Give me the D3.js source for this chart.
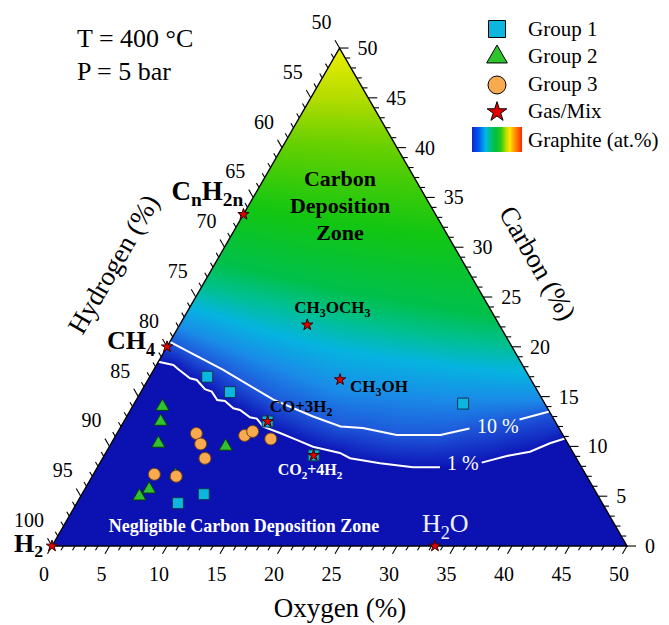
<!DOCTYPE html>
<html>
<head>
<meta charset="utf-8">
<script src="https://cdn.jsdelivr.net/npm/d3@7/dist/d3.min.js"></script>
<style>
  html, body { margin: 0; padding: 0; background: #fff; }
  svg { display: block; }
  text { font-family: "Liberation Serif", "Times New Roman", serif; }
</style>
</head>
<body>
<svg id="chart" width="669" height="625"></svg>
<script>
// Ternary H–O–C equilibrium diagram (H 50–100 %, O 0–50 %, C 0–50 %).
// Every composition is stored as [oxygen %, carbon %]; hydrogen is the remainder.

const oxygenTicks = [0, 5, 10, 15, 20, 25, 30, 35, 40, 45, 50];
const carbonTicks = [0, 5, 10, 15, 20, 25, 30, 35, 40, 45, 50];
const hydrogenTicks = [50, 55, 60, 65, 70, 75, 80, 85, 90, 95, 100];

const group1 = [[5.0, 17.0], [7.75, 15.45], [28.6, 14.3], [10.6, 5.2], [8.8, 4.3], [12.5, 12.5], [18.2, 9.1]];
const group2 = [[2.6, 14.0], [3.2, 12.5], [4.1, 10.3], [10.1, 10.0], [7.2, 7.1], [5.6, 5.7], [5.1, 5.0]];
const group3 = [[6.9, 11.3], [7.8, 10.25], [8.9, 8.8], [5.3, 7.2], [7.3, 7.0], [11.2, 11.1], [11.7, 11.5], [13.65, 10.75]];

const gasNames  = ["H_2", "H_2O", "CH_4", "C_nH_{2n}", "CH_3OCH_3", "CH_3OH", "CO+3H_2", "CO_2+4H_2"];
const gasOxygen = [0, 33.3, 0, 0, 11.1, 16.7, 12.5, 18.2];
const gasCarbon = [0, 0, 20, 33.3, 22.2, 16.7, 12.5, 9.1];

// Graphite iso-contours (at.%)
const contour1 = [[0, 18.5], [1.46, 18.18], [2.11, 17.75], [3.58, 16.84], [4.25, 16.67], [5.43, 15.74],
  [6.14, 15.5], [7.04, 14.66], [7.76, 14.56], [8.85, 13.83], [9.52, 13.66], [10.75, 12.93],
  [11.41, 12.79], [12.38, 11.98], [14.15, 11.35], [15.95, 10.65], [17.71, 9.97], [20.37, 9.34],
  [21.51, 8.81], [24.37, 8.31], [27.44, 7.9], [29.79, 7.9], [33.18, 8.37], [35.02, 9.04],
  [36.83, 9.47], [38.14, 10.32], [39.2, 10.8]];
const contour10 = [[0, 20.5], [6.0, 17.7], [11.9, 14.7], [16.2, 13.0], [19.1, 12.0], [21.1, 11.85],
  [24.4, 11.15], [28.2, 11.15], [30.4, 11.8], [34.3, 12.7], [36.5, 13.5]];
const contourLevels = ["1 %", "10 %"];

// Graphite colour field: iso-shade lines above the 10 % contour
const shadeLightBlue = [[0, 22.0], [8, 19.0], [17, 15.6], [26, 14.8], [35.3, 14.7]];
const shadeCyan      = [[0, 24.0], [8, 21.5], [15, 19.7], [25, 18.2], [32.6, 17.4]];
const shadeTeal      = [[0, 26.0], [8, 24.3], [14, 22.7], [22, 21.2], [29.8, 20.2]];
const shadeGreen     = [[0, 28.5], [12, 25.7], [20, 24.2], [27, 23.0]];
const shadeDeepGreen = [[0, 34.0], [8, 32.5], [18, 31.2]];
const shadeLime      = [[0, 40.5], [9.5, 39.8]];
const shadeYellowGreen = [[0, 45.0], [5.0, 45.0]];
const shadeApex      = [[0, 50]];

const legendLabels = ["Group 1", "Group 2", "Group 3", "Gas/Mix", "Graphite (at.%)"];
const conditions = ["T = 400 °C", "P = 5 bar"];

// ---------------------------------------------------------------------------
const svg = d3.select("#chart");
const side = 575, x0 = 52, y0 = 546;
const triH = side * Math.sqrt(3) / 2;
const yTop = y0 - triH;
const xs = d3.scaleLinear().domain([0, 50]).range([x0, x0 + side]);
const ys = d3.scaleLinear().domain([0, 50]).range([y0, yTop]);
const P = (O, C) => [xs(O + C / 2), ys(C)];

const FIELD_BASE = "#0c12b1";
const shadeBands = [
  { line: contour1,         color: "#0d16b7" },
  { line: contour10,        color: "#1e58da" },
  { line: shadeLightBlue,   color: "#1a8ce8" },
  { line: shadeCyan,        color: "#06b4e0" },
  { line: shadeTeal,        color: "#00c090" },
  { line: shadeGreen,       color: "#00c04c" },
  { line: shadeDeepGreen,   color: "#12c612" },
  { line: shadeLime,        color: "#66d000" },
  { line: shadeYellowGreen, color: "#b4dc00" },
  { line: shadeApex,        color: "#eeee00" }
];

function lineAt(line, O) {
  if (O <= line[0][0]) return line[0][1];
  for (let k = 1; k < line.length; k++) {
    if (O <= line[k][0]) {
      const [o0, c0] = line[k - 1], [o1, c1] = line[k];
      return c0 + (c1 - c0) * (O - o0) / (o1 - o0);
    }
  }
  return line[line.length - 1][1];
}

// --- raster of the graphite field -----------------------------------------
const cw = Math.round(side), ch = Math.ceil(triH);
const canvas = document.createElement("canvas");
canvas.width = cw; canvas.height = ch;
const ctx = canvas.getContext("2d");
const img = ctx.createImageData(cw, ch);
const interps = shadeBands.slice(1).map((b, k) => d3.interpolateRgb(shadeBands[k].color, b.color));
const base = d3.rgb(FIELD_BASE);
for (let j = 0; j < ch; j++) {
  for (let i = 0; i < cw; i++) {
    const px = x0 + i + 0.5, py = yTop + j + 0.5;
    const C = ys.invert(py), O = xs.invert(px) - C / 2;
    const lv = shadeBands.map(b => lineAt(b.line, O));
    let col;
    if (C < lv[0]) col = base;
    else if (C >= lv[lv.length - 1]) col = d3.rgb(shadeBands[lv.length - 1].color);
    else {
      let k = 0;
      while (k < lv.length - 1 && C >= lv[k + 1]) k++;
      const t = (C - lv[k]) / (lv[k + 1] - lv[k]);
      col = d3.rgb(interps[k](t));
    }
    const idx = (j * cw + i) * 4;
    img.data[idx] = col.r; img.data[idx + 1] = col.g; img.data[idx + 2] = col.b; img.data[idx + 3] = 255;
  }
}
ctx.putImageData(img, 0, 0);

const defs = svg.append("defs");
const triPts = [P(0, 0), P(50, 0), P(0, 50)];
defs.append("clipPath").attr("id", "tri")
  .append("polygon").attr("points", triPts.map(p => p.join(",")).join(" "));

svg.append("image")
  .attr("href", canvas.toDataURL())
  .attr("x", x0).attr("y", yTop).attr("width", cw).attr("height", ch)
  .attr("preserveAspectRatio", "none")
  .attr("clip-path", "url(#tri)");

// --- contour lines -----------------------------------------------------------
const line = d3.line().x(d => P(d[0], d[1])[0]).y(d => P(d[0], d[1])[1]);
const contourGaps = [[29.79, 33.18], [30.4, 34.3]];
[contour1, contour10].forEach((c, k) => {
  const g = contourGaps[k];
  [c.filter(d => d[0] <= g[0]), c.filter(d => d[0] >= g[1])].forEach(seg => {
    svg.append("path").attr("d", line(seg)).attr("fill", "none")
      .attr("stroke", "#fff").attr("stroke-width", 2).attr("clip-path", "url(#tri)");
  });
});
const contourLabelPos = [[447, 470], [477, 433]];
contourLevels.forEach((t, k) => {
  svg.append("text").attr("x", contourLabelPos[k][0]).attr("y", contourLabelPos[k][1])
    .attr("font-size", 20).attr("fill", "#fff").text(t);
});

// --- triangle frame, ticks and labels ---------------------------------------
svg.append("polygon").attr("points", triPts.map(p => p.join(",")).join(" "))
  .attr("fill", "none").attr("stroke", "#000").attr("stroke-width", 1.4);

const tickG = svg.append("g").attr("stroke", "#000").attr("stroke-width", 1.1);
const minor = d3.range(0, 51, 1);
const s3 = Math.sqrt(3) / 2;
minor.forEach(v => {
  const len = v % 5 === 0 ? 9 : 5;
  // oxygen (bottom)
  let b = P(v, 0);
  tickG.append("line").attr("x1", b[0]).attr("y1", b[1]).attr("x2", b[0] - 0.5 * len).attr("y2", b[1] + s3 * len);
  // carbon (right)
  b = P(50 - v, v);
  tickG.append("line").attr("x1", b[0]).attr("y1", b[1]).attr("x2", b[0] + len).attr("y2", b[1]);
  // hydrogen (left)
  b = P(0, v);
  tickG.append("line").attr("x1", b[0]).attr("y1", b[1]).attr("x2", b[0] - 0.5 * len).attr("y2", b[1] - s3 * len);
});

const tickFont = 20;
oxygenTicks.forEach(v => {
  const b = P(v, 0);
  svg.append("text").attr("x", b[0] - 8).attr("y", b[1] + 28).attr("dy", "0.35em")
    .attr("text-anchor", "middle").attr("font-size", tickFont).text(v);
});
carbonTicks.forEach(v => {
  const b = P(50 - v, v);
  svg.append("text").attr("x", b[0] + 18).attr("y", b[1]).attr("dy", "0.35em")
    .attr("font-size", tickFont).text(v);
});
hydrogenTicks.forEach(v => {
  const b = P(0, 100 - v);
  svg.append("text").attr("x", b[0] - 8).attr("y", b[1] - 26).attr("dy", "0.35em")
    .attr("text-anchor", "end").attr("font-size", tickFont).text(v);
});

svg.append("text").attr("x", 340).attr("y", 617).attr("text-anchor", "middle")
  .attr("font-size", 27).text("Oxygen (%)");
svg.append("text").attr("transform", "translate(113,264) rotate(-60)").attr("text-anchor", "middle")
  .attr("dy", "0.35em").attr("font-size", 27).text("Hydrogen (%)");
svg.append("text").attr("transform", "translate(538,263) rotate(60)").attr("text-anchor", "middle")
  .attr("dy", "0.35em").attr("font-size", 27).text("Carbon (%)");

conditions.forEach((t, k) => {
  svg.append("text").attr("x", 77).attr("y", 47 + k * 33).attr("font-size", 26).text(t);
});

// --- zone labels ------------------------------------------------------------
["Carbon", "Deposition", "Zone"].forEach((t, k) => {
  svg.append("text").attr("x", 340).attr("y", 186 + k * 27).attr("text-anchor", "middle")
    .attr("font-size", 22).attr("font-weight", "bold").text(t);
});
svg.append("text").attr("x", 244).attr("y", 532).attr("text-anchor", "middle")
  .attr("font-size", 18).attr("font-weight", "bold").attr("fill", "#fff")
  .text("Negligible Carbon Deposition Zone");

// --- markers ----------------------------------------------------------------
const sym = (type, size) => d3.symbol().type(type).size(size)();
const styles = {
  g1: { fill: "#0cb6de", stroke: "#12324e" },
  g2: { fill: "#2fc42f", stroke: "#0b3a0b" },
  g3: { fill: "#f9a94e", stroke: "#6e4216" },
  gas: { fill: "#e00000", stroke: "#3a0000" }
};
function drawPoints(data, type, size, st) {
  svg.append("g").selectAll("path").data(data).join("path")
    .attr("transform", d => `translate(${P(d[0], d[1])})`)
    .attr("d", sym(type, size))
    .attr("fill", st.fill).attr("stroke", st.stroke).attr("stroke-width", 1);
}
drawPoints(group1, d3.symbolSquare, 121, styles.g1);
drawPoints(group2, d3.symbolTriangle, 75, styles.g2);
drawPoints(group3, d3.symbolCircle, 113, styles.g3);
drawPoints(gasOxygen.map((o, k) => [o, gasCarbon[k]]), d3.symbolStar, 40, styles.gas);

// rich text with subscripts: "_x" or "_{xy}"
function rich(sel, str, subScale, subDy) {
  const re = /_\{([^}]*)\}|_(\w)|([^_]+)/g;
  let m, shifted = false;
  while ((m = re.exec(str)) !== null) {
    const sub = m[1] !== undefined || m[2] !== undefined;
    const txt = m[1] !== undefined ? m[1] : (m[2] !== undefined ? m[2] : m[3]);
    const ts = sel.append("tspan").text(txt);
    if (sub) ts.attr("font-size", `${subScale}em`);
    if (sub && !shifted) { ts.attr("dy", subDy); shifted = true; }
    else if (!sub && shifted) { ts.attr("dy", -subDy); shifted = false; }
  }
}

const gasLabelLayout = {
  "H_2":       { dx: -38, dy: 6,   size: 26, weight: "bold",   fill: "#000", sub: 0.68, sdy: 5 },
  "H_2O":      { dx: -13, dy: -14, size: 26, weight: "normal", fill: "#eef0ff", sub: 0.7, sdy: 7 },
  "CH_4":      { dx: -60, dy: 2,   size: 26, weight: "bold",   fill: "#000", sub: 0.7, sdy: 7 },
  "C_nH_{2n}": { dx: -72, dy: -14, size: 27, weight: "bold",   fill: "#000", sub: 0.72, sdy: 6 },
  "CH_3OCH_3": { dx: -13, dy: -12, size: 17, weight: "bold",   fill: "#000", sub: 0.7, sdy: 4 },
  "CH_3OH":    { dx: 10,  dy: 12,  size: 17, weight: "bold",   fill: "#000", sub: 0.7, sdy: 4 },
  "CO+3H_2":   { dx: 2,   dy: -10, size: 17, weight: "bold",   fill: "#000", sub: 0.7, sdy: 4 },
  "CO_2+4H_2": { dx: -36, dy: 20,  size: 16, weight: "bold",   fill: "#fff", sub: 0.7, sdy: 4 }
};
gasNames.forEach((n, k) => {
  const L = gasLabelLayout[n];
  const p = P(gasOxygen[k], gasCarbon[k]);
  const t = svg.append("text").attr("x", p[0] + L.dx).attr("y", p[1] + L.dy)
    .attr("font-size", L.size).attr("font-weight", L.weight).attr("fill", L.fill);
  rich(t, n, L.sub, L.sdy);
});

// --- legend -----------------------------------------------------------------
const legX = 497, legTextX = 528;
const legendY = [29, 57, 85, 112];
const legendMarks = [
  [d3.symbolSquare, 289, styles.g1],
  [d3.symbolTriangle, 185, styles.g2],
  [d3.symbolCircle, 254, styles.g3],
  [d3.symbolStar, 120, styles.gas]
];
legendMarks.forEach(([type, size, st], k) => {
  svg.append("path").attr("transform", `translate(${legX},${legendY[k]})`)
    .attr("d", sym(type, size)).attr("fill", st.fill).attr("stroke", "#000").attr("stroke-width", 1);
});
const grad = defs.append("linearGradient").attr("id", "graphiteScale");
[[0, "#1424c8"], [0.13, "#0058f0"], [0.27, "#00b4ea"], [0.37, "#00c07a"], [0.47, "#00c040"],
 [0.58, "#2cc814"], [0.67, "#a8dc00"], [0.75, "#ffe600"], [0.87, "#ff8a00"], [1, "#ff2400"]]
  .forEach(([o, c]) => grad.append("stop").attr("offset", o).attr("stop-color", c));
svg.append("rect").attr("x", 472).attr("y", 127).attr("width", 50).attr("height", 25)
  .attr("fill", "url(#graphiteScale)");
const legendBase = [36, 63, 91, 118, 147];
legendLabels.forEach((t, k) => {
  svg.append("text").attr("x", legTextX).attr("y", legendBase[k]).attr("font-size", 21).text(t);
});
</script>
</body>
</html>
